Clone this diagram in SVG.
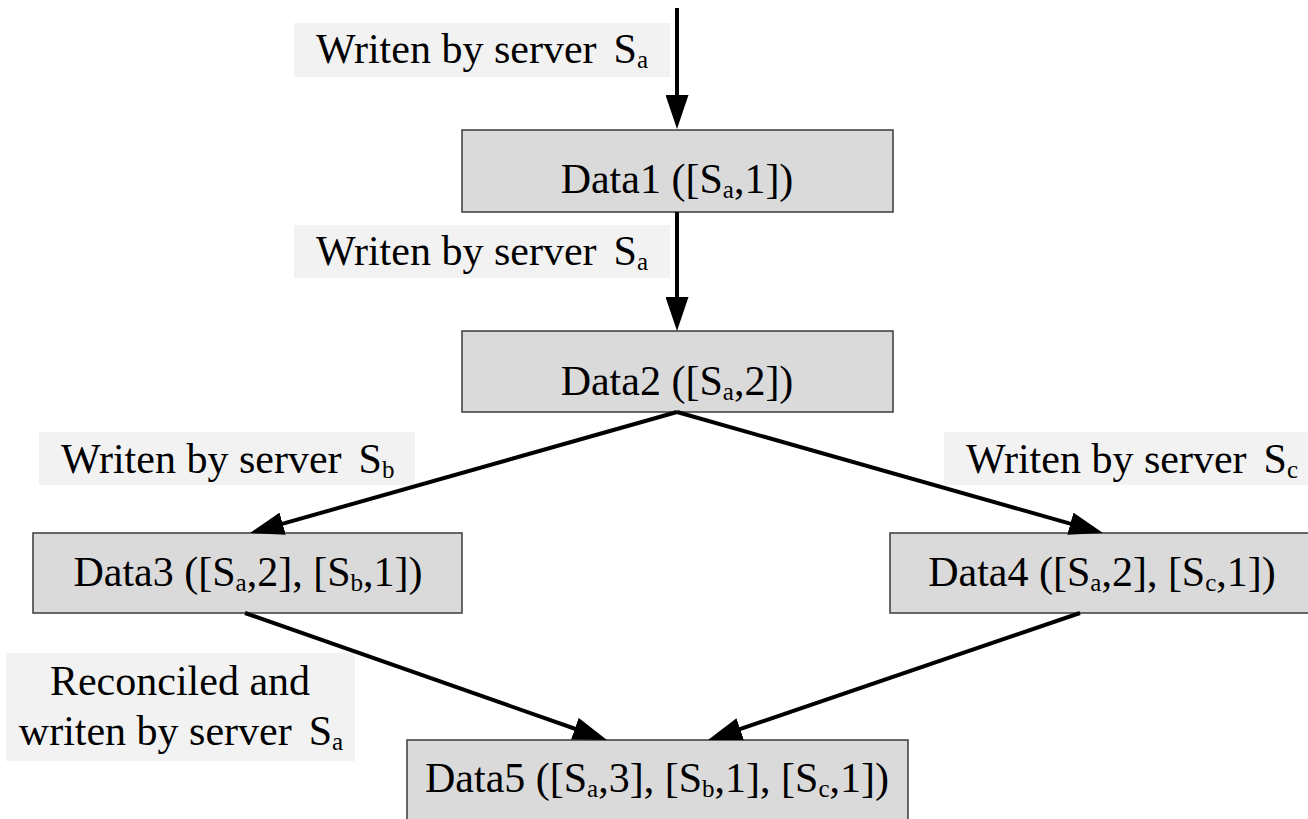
<svg xmlns="http://www.w3.org/2000/svg" width="1308" height="819" viewBox="0 0 1308 819">
<style>
.node rect{fill:#dadada;stroke:#3a3a3a;stroke-width:1.5}
.node text{font-family:"Liberation Serif","Times New Roman",serif;font-size:42px;fill:#000;text-anchor:middle}
.lbl rect{fill:#f2f2f2;stroke:none}
.lbl text{font-family:"Liberation Serif","Times New Roman",serif;font-size:42px;fill:#000}
.sub{font-size:25px}
.conn line{stroke:#000;stroke-width:4;marker-end:url(#ah)}
</style>
<defs>
<marker id="ah" markerUnits="userSpaceOnUse" markerWidth="34" markerHeight="23" refX="19" refY="11.5" orient="auto" viewBox="0 0 34 23">
<path d="M0,0 L34,11.5 L0,23 Z" fill="#000"/>
</marker>
</defs>
<rect width="1308" height="819" fill="#fff"/>

<g id="labels">
<g id="label1" class="lbl">
<rect x="294" y="23" width="376" height="54"/>
<text x="316" y="63">Writen by server<tspan dx="17">S</tspan><tspan class="sub" dy="5">a</tspan></text>
</g>
<g id="label2" class="lbl">
<rect x="294" y="225" width="376" height="53"/>
<text x="316" y="265">Writen by server<tspan dx="17">S</tspan><tspan class="sub" dy="5">a</tspan></text>
</g>
<g id="label3" class="lbl">
<rect x="39" y="432" width="376" height="53"/>
<text x="61" y="473">Writen by server<tspan dx="17">S</tspan><tspan class="sub" dy="5">b</tspan></text>
</g>
<g id="label4" class="lbl">
<rect x="944" y="432" width="364" height="53"/>
<text x="966" y="473">Writen by server<tspan dx="17">S</tspan><tspan class="sub" dy="5">c</tspan></text>
</g>
<g id="label5" class="lbl">
<rect x="6" y="653" width="349" height="108"/>
<text x="180" y="695" text-anchor="middle">Reconciled and</text>
<text x="181" y="745" text-anchor="middle">writen by server<tspan dx="17">S</tspan><tspan class="sub" dy="5">a</tspan></text>
</g>
</g>

<g id="data1" class="node">
<rect x="462" y="130" width="431" height="82"/>
<text x="677" y="193">Data1 ([S<tspan class="sub" dy="5">a</tspan><tspan dy="-5">,1])</tspan></text>
</g>
<g id="data2" class="node">
<rect x="462" y="331" width="431" height="81"/>
<text x="677" y="395">Data2 ([S<tspan class="sub" dy="5">a</tspan><tspan dy="-5">,2])</tspan></text>
</g>
<g id="data3" class="node">
<rect x="33" y="533" width="429" height="80"/>
<text x="248" y="586">Data3 ([S<tspan class="sub" dy="5">a</tspan><tspan dy="-5">,2], [S</tspan><tspan class="sub" dy="5">b</tspan><tspan dy="-5">,1])</tspan></text>
</g>
<g id="data4" class="node">
<rect x="890" y="533" width="430" height="80"/>
<text x="1102" y="586">Data4 ([S<tspan class="sub" dy="5">a</tspan><tspan dy="-5">,2], [S</tspan><tspan class="sub" dy="5">c</tspan><tspan dy="-5">,1])</tspan></text>
</g>
<g id="data5" class="node">
<rect x="407" y="740" width="501" height="90"/>
<text x="657" y="792">Data5 ([S<tspan class="sub" dy="5">a</tspan><tspan dy="-5">,3], [S</tspan><tspan class="sub" dy="5">b</tspan><tspan dy="-5">,1], [S</tspan><tspan class="sub" dy="5">c</tspan><tspan dy="-5">,1])</tspan></text>
</g>

<g id="connectors" class="conn">
<line x1="677" y1="8" x2="677" y2="114"/>
<line x1="677" y1="212" x2="677" y2="316"/>
<line x1="677" y1="412" x2="264.4" y2="528.9"/>
<line x1="677" y1="412" x2="1088.6" y2="528.9"/>
<line x1="245" y1="613" x2="592.8" y2="735"/>
<line x1="1080" y1="613" x2="722.2" y2="735.2"/>
</g>
</svg>
